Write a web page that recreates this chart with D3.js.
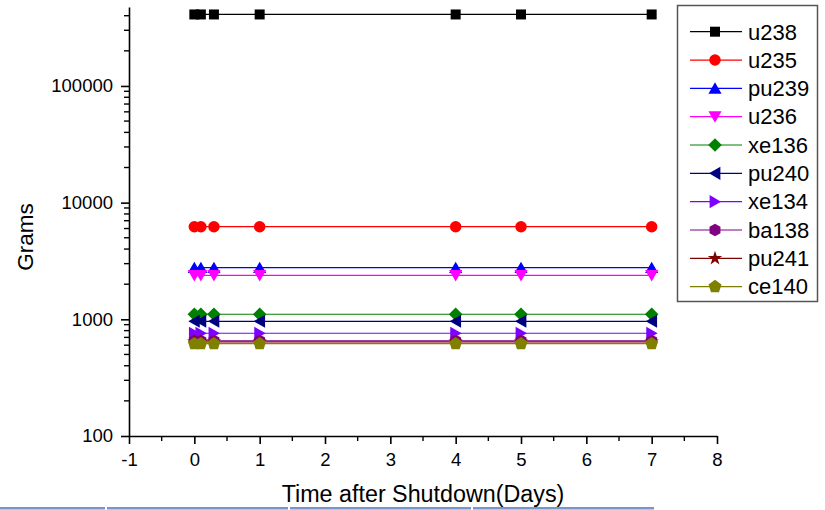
<!DOCTYPE html>
<html>
<head>
<meta charset="utf-8">
<script src="https://cdn.jsdelivr.net/npm/d3@7"></script>
<style>
  html, body { margin: 0; padding: 0; background: #fff; }
  svg { display: block; font-family: "Liberation Sans", Arial, sans-serif; }
</style>
</head>
<body>
<svg id="chart" width="825" height="510"></svg>
<script>
// Time after shutdown (days)
const days = [0, 0.1, 0.3, 1, 4, 5, 7];

// Inventory of each nuclide (grams)
const u238  = [410000, 410000, 410000, 410000, 410000, 410000, 410000];
const u235  = [6220, 6220, 6220, 6220, 6220, 6220, 6220];
const pu239 = [2770, 2770, 2770, 2770, 2770, 2770, 2770];
const u236  = [2380, 2380, 2380, 2380, 2380, 2380, 2380];
const xe136 = [1105, 1105, 1105, 1105, 1105, 1105, 1105];
const pu240 = [962, 962, 962, 962, 962, 962, 962];
const xe134 = [760, 760, 760, 760, 760, 760, 760];
const ba138 = [655, 655, 655, 655, 655, 655, 655];
const pu241 = [640, 640, 640, 640, 640, 640, 640];
const ce140 = [618, 618, 618, 618, 618, 618, 618];

const seriesNames = ["u238", "u235", "pu239", "u236", "xe136", "pu240", "xe134", "ba138", "pu241", "ce140"];
const seriesValues = [u238, u235, pu239, u236, xe136, pu240, xe134, ba138, pu241, ce140];
const seriesColors = ["#000000", "#ff0000", "#0000ff", "#ff00ff", "#008000", "#000080", "#8000ff", "#800080", "#800000", "#808000"];
const seriesSymbols = ["square", "circle", "triUp", "triDown", "diamond", "triLeft", "triRight", "hexagon", "star", "pentagon"];

const xTicks = [-1, 0, 1, 2, 3, 4, 5, 6, 7, 8];
const yTicks = [100, 1000, 10000, 100000];

const svg = d3.select("#chart");

const x = d3.scaleLinear().domain([-1, 8]).range([129, 717]);
const y = d3.scaleLog().domain([100, 475000]).range([436, 7]);

// marker shapes
function polygon(n, r, rot) {
  const pts = [];
  for (let i = 0; i < n; i++) {
    const a = rot + i * 2 * Math.PI / n;
    pts.push([r * Math.sin(a), -r * Math.cos(a)]);
  }
  return "M" + pts.map(p => p[0].toFixed(2) + "," + p[1].toFixed(2)).join("L") + "Z";
}
function triangle(r, rotDeg) {
  return polygon(3, r, rotDeg * Math.PI / 180);
}
const symbolPath = {
  square: "M-5,-5L5,-5L5,5L-5,5Z",
  circle: d3.symbol().type(d3.symbolCircle).size(104)(),
  triUp: triangle(7.6, 0),
  triDown: triangle(7.6, 180),
  triLeft: triangle(7.6, -90),
  triRight: triangle(7.6, 90),
  diamond: polygon(4, 6.8, 0),
  hexagon: polygon(6, 6.3, 0),
  star: d3.symbol().type(d3.symbolStar).size(64)(),
  pentagon: polygon(5, 6.8, 0)
};
// optical centre offsets for triangles so the line passes through the middle
const symbolShift = { triUp: 1.6, triDown: -1.6, triLeft: 0, triRight: 0 };
const symbolShiftX = { triLeft: 1.6, triRight: -1.6 };

// bottom strip
const stripSegs = [[0, 105], [107, 288], [290, 471], [473, 654]];
svg.selectAll("rect.strip").data(stripSegs).join("rect")
  .attr("class", "strip")
  .attr("x", d => d[0]).attr("y", 507)
  .attr("width", d => d[1] - d[0]).attr("height", 2.5)
  .attr("fill", "#7398cc");

// axes
const fontTick = 18.5;
const xAxis = d3.axisBottom(x).tickValues(xTicks).tickFormat(d => String(d))
  .tickSize(8).tickSizeOuter(0).tickPadding(9);
const yAxis = d3.axisLeft(y).tickValues(yTicks).tickFormat(d => String(d))
  .tickSize(8).tickSizeOuter(0).tickPadding(8);

const gx = svg.append("g").attr("transform", "translate(0,436)").call(xAxis);
const gy = svg.append("g").attr("transform", "translate(129,0)").call(yAxis);
[gx, gy].forEach(g => {
  g.selectAll("path.domain").attr("stroke", "#000").attr("stroke-width", 1.6);
  g.selectAll(".tick line").attr("stroke", "#000").attr("stroke-width", 1.6);
  g.selectAll(".tick text").attr("fill", "#000")
    .style("font-family", "'Liberation Sans', Arial, sans-serif")
    .style("font-size", fontTick + "px");
});

// minor ticks
const xMinor = d3.range(-1, 8, 1).map(v => v + 0.5);
svg.append("g").selectAll("line").data(xMinor).join("line")
  .attr("x1", d => x(d)).attr("x2", d => x(d))
  .attr("y1", 436).attr("y2", 441)
  .attr("stroke", "#000").attr("stroke-width", 1.4);

const yMinor = [];
[100, 1000, 10000, 100000].forEach(base => {
  for (let k = 2; k <= 9; k++) {
    const v = base * k;
    if (v <= y.domain()[1]) yMinor.push(v);
  }
});
svg.append("g").selectAll("line").data(yMinor).join("line")
  .attr("x1", 124).attr("x2", 129)
  .attr("y1", d => y(d)).attr("y2", d => y(d))
  .attr("stroke", "#000").attr("stroke-width", 1.4);

// axis titles
svg.append("text")
  .attr("x", 423).attr("y", 502)
  .attr("text-anchor", "middle")
  .style("font-size", "23.3px")
  .text("Time after Shutdown(Days)");

svg.append("text")
  .attr("transform", "translate(33,237) rotate(-90)")
  .attr("text-anchor", "middle")
  .style("font-size", "22.5px")
  .text("Grams");

// series lines and markers
const line = d3.line().x(d => x(d[0])).y(d => y(d[1]));
seriesNames.forEach((name, i) => {
  const pts = days.map((d, j) => [d, seriesValues[i][j]]);
  const g = svg.append("g").attr("class", "series-" + name);
  g.append("path")
    .attr("d", line(pts))
    .attr("fill", "none")
    .attr("stroke", seriesColors[i])
    .attr("stroke-width", 1.2);
  const sh = symbolShift[seriesSymbols[i]] || 0;
  const shx = symbolShiftX[seriesSymbols[i]] || 0;
  g.selectAll("path.mk").data(pts).join("path")
    .attr("class", "mk")
    .attr("d", symbolPath[seriesSymbols[i]])
    .attr("transform", d => `translate(${x(d[0]) + shx},${y(d[1]) + sh})`)
    .attr("fill", seriesColors[i]);
});

// legend
const legend = svg.append("g");
legend.append("rect")
  .attr("x", 677.5).attr("y", 5.5).attr("width", 140).attr("height", 296)
  .attr("fill", "#fff").attr("stroke", "#555").attr("stroke-width", 1.5);
seriesNames.forEach((name, i) => {
  const cy = 31.7 + i * 28.33;
  const sh = symbolShift[seriesSymbols[i]] || 0;
  const shx = symbolShiftX[seriesSymbols[i]] || 0;
  legend.append("line")
    .attr("x1", 690).attr("x2", 742).attr("y1", cy).attr("y2", cy)
    .attr("stroke", seriesColors[i]).attr("stroke-width", 1.2);
  legend.append("path")
    .attr("d", symbolPath[seriesSymbols[i]])
    .attr("transform", `translate(${715 + shx},${cy + sh})`)
    .attr("fill", seriesColors[i]);
  legend.append("text")
    .attr("x", 748).attr("y", cy + 7.8)
    .style("font-size", "22px")
    .text(name);
});
</script>
</body>
</html>
